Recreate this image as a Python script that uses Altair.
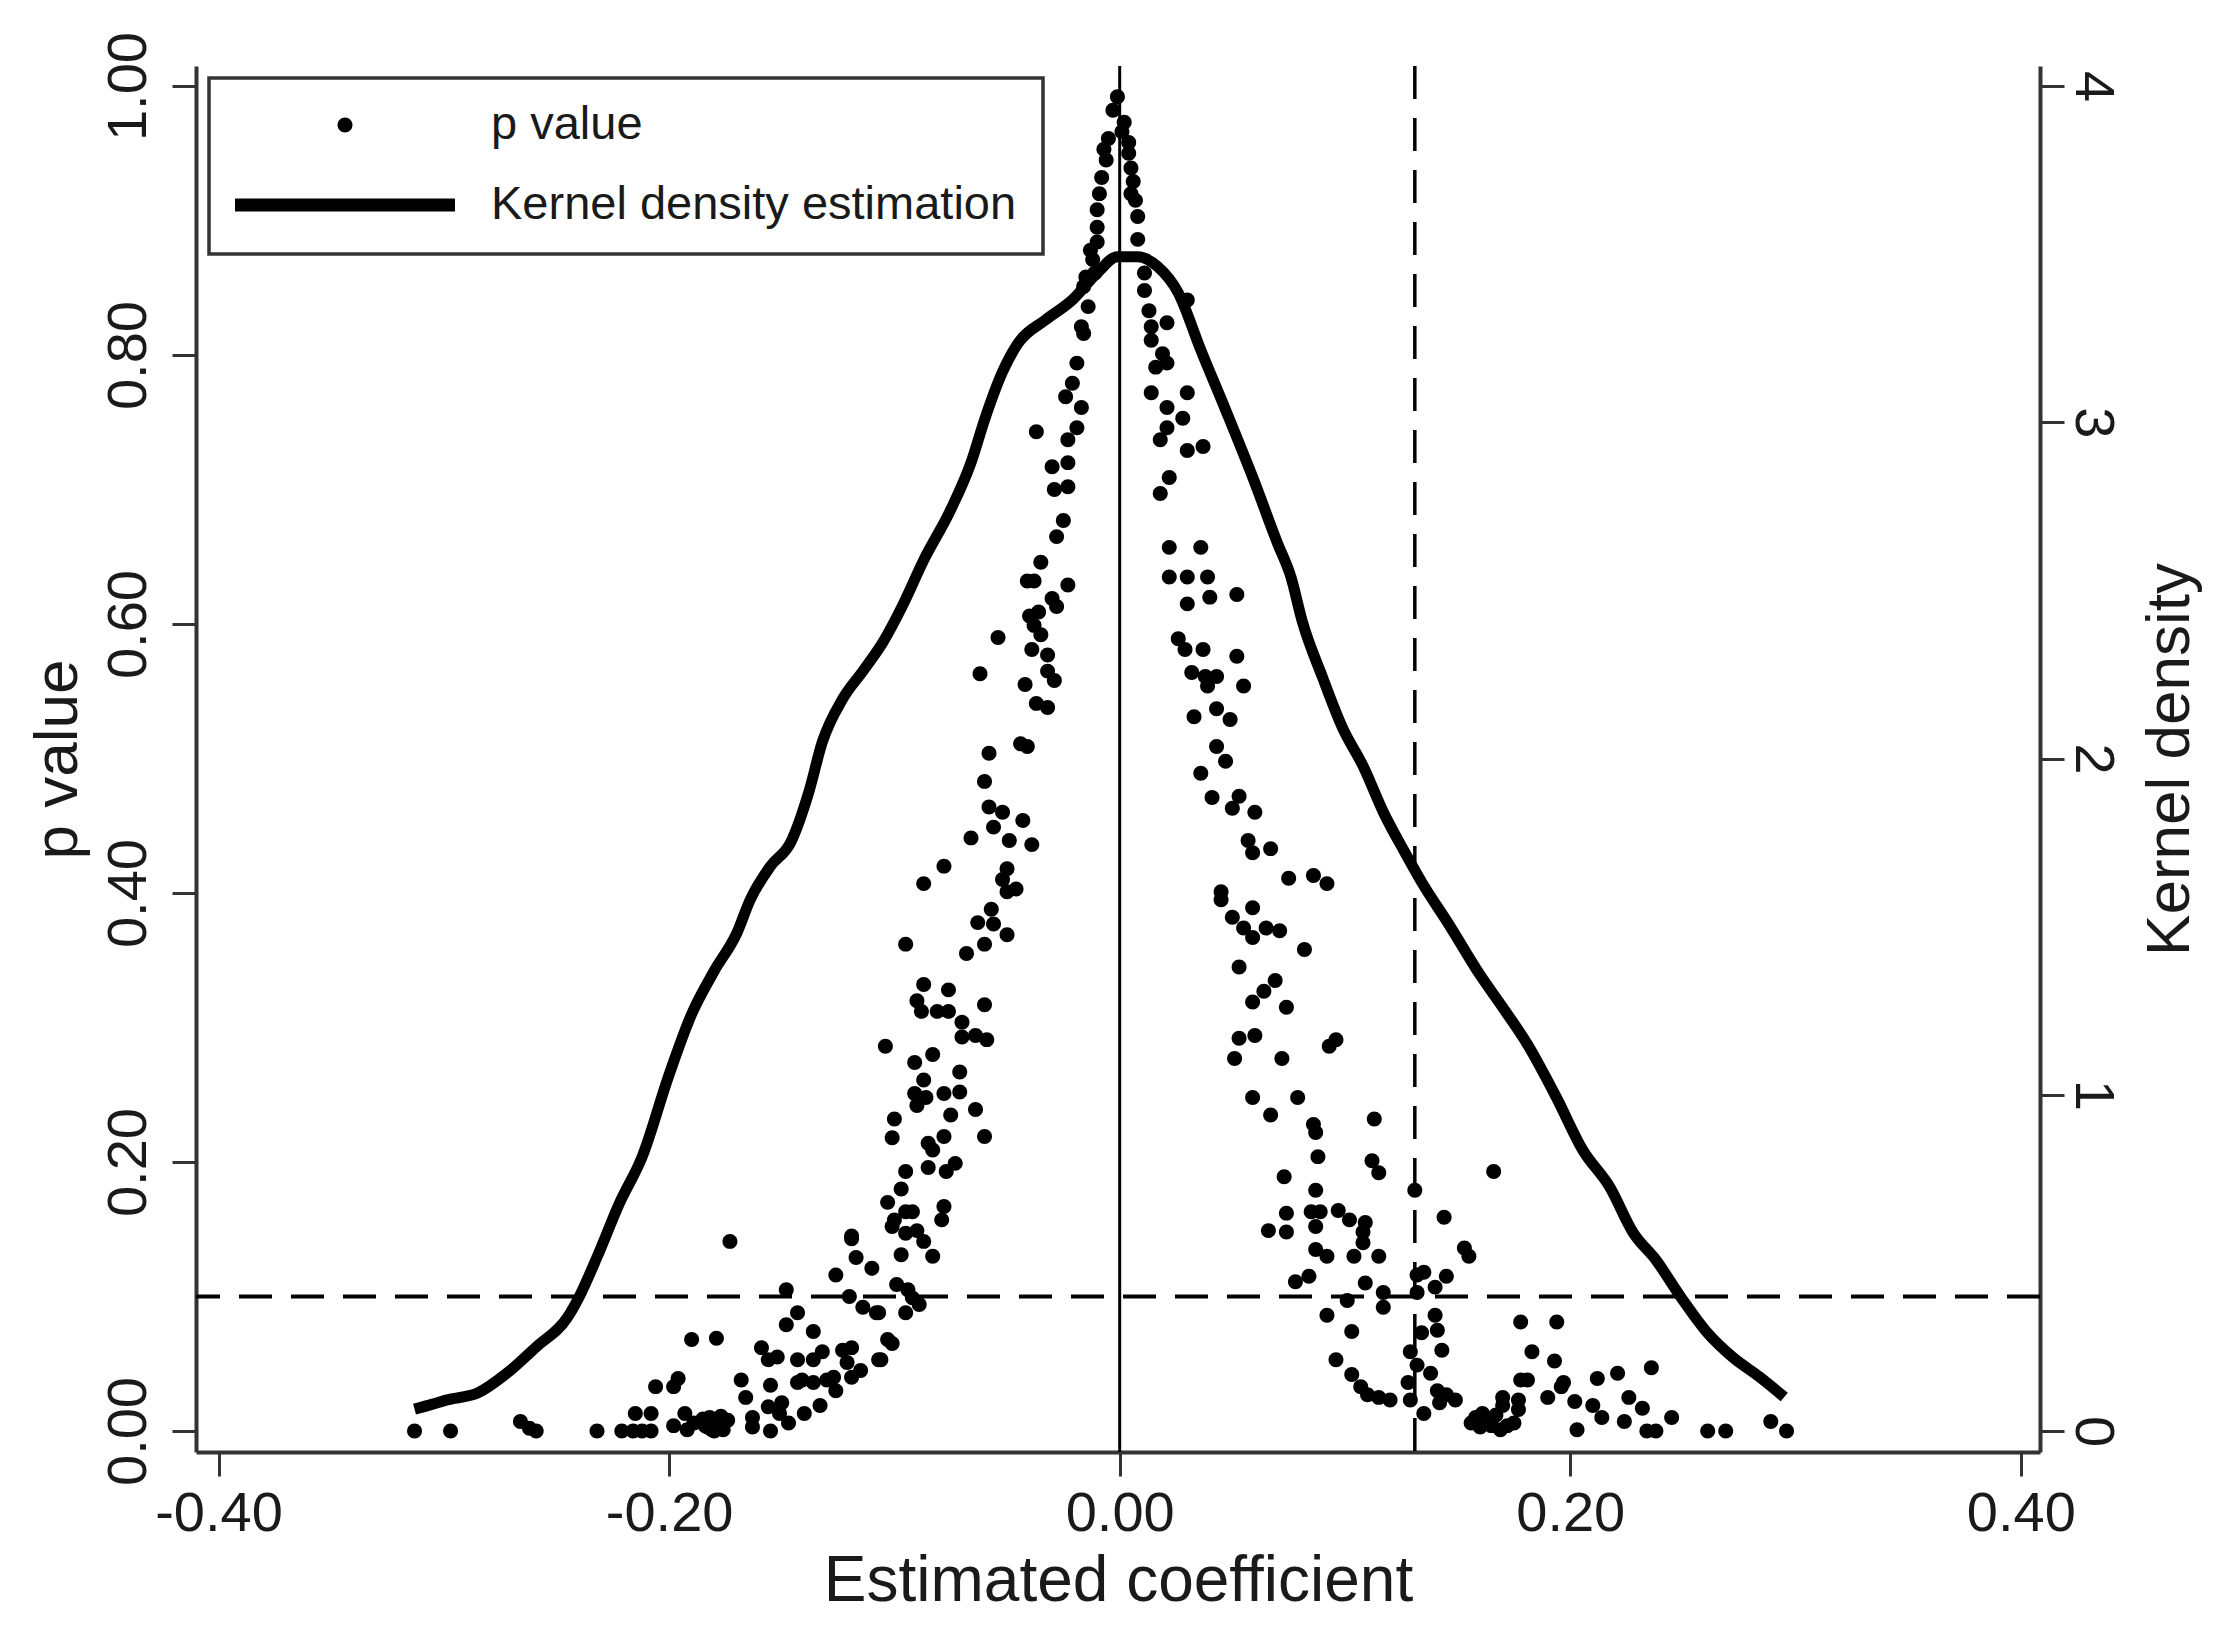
import altair as alt
import pandas as pd

# ---------------- data ----------------
coef = [
    # top of the funnel
    -0.001, -0.003, 0.002, 0.001, -0.005, 0.004, -0.007, 0.004, -0.006, 0.005,
    -0.008, 0.006, -0.009, 0.005, 0.007, -0.010, 0.008, -0.010, 0.008, -0.010,
    -0.013, -0.012, -0.011, -0.015, -0.016, -0.014, -0.017, -0.016, -0.019, -0.021,
    -0.024, -0.017, -0.019, -0.023, -0.037, -0.030, -0.023, -0.029, -0.023, -0.025,
    -0.028, 0.011, 0.011, 0.013, 0.014, 0.021, 0.014, 0.030, 0.019, 0.016,
    0.021, 0.014, 0.030, 0.021, 0.028, 0.021, 0.018, 0.030, 0.037, 0.022,
    0.018, 0.022, 0.036,
    # left branch, middle
    -0.035, -0.041, -0.038, -0.023, -0.030, -0.028, -0.040, -0.036, -0.038, -0.035,
    -0.054, -0.039, -0.032, -0.032, -0.029, -0.042, -0.062, -0.037, -0.032, -0.044,
    -0.041, -0.058, -0.060, -0.058, -0.052, -0.043, -0.056, -0.066, -0.049, -0.039,
    -0.078, -0.087, -0.050, -0.052, -0.046, -0.050, -0.057, -0.063, -0.056, -0.050,
    -0.060, -0.068, -0.095, -0.087, -0.076, -0.090, -0.088, -0.081, -0.076, -0.060,
    -0.070, -0.070, -0.064, -0.059, -0.104, -0.083, -0.091, -0.071, -0.087, -0.091,
    -0.086, -0.078, -0.071, -0.090, -0.064, -0.100, -0.075, -0.101, -0.078, -0.085,
    -0.060,
    # left branch, lower
    -0.083, -0.095, -0.085, -0.077, -0.073, -0.097, -0.103, -0.095, -0.092, -0.078,
    -0.100, -0.079, -0.101, -0.095, -0.090, -0.087, -0.097, -0.083, -0.099, -0.094,
    -0.092, -0.089, -0.095, -0.107, -0.103, -0.101, -0.106, -0.119,
    # left tail
    -0.313, -0.297, -0.266, -0.262, -0.259, -0.232, -0.221, -0.216, -0.212, -0.208,
    -0.215, -0.208, -0.206, -0.198, -0.196, -0.198, -0.193, -0.192, -0.189, -0.182,
    -0.179, -0.176, -0.181, -0.183, -0.174, -0.173, -0.190, -0.179, -0.168, -0.166,
    -0.163, -0.163, -0.159, -0.156, -0.152, -0.155, -0.156, -0.155, -0.151, -0.150,
    -0.147, -0.148, -0.143, -0.148, -0.143, -0.143, -0.141, -0.140, -0.136, -0.136,
    -0.132, -0.136, -0.133, -0.130, -0.127, -0.126, -0.126, -0.123, -0.121, -0.120,
    -0.119, -0.117, -0.119, -0.119, -0.115, -0.114, -0.110, -0.108, -0.107,
    -0.184, -0.180, -0.178, -0.177, -0.185, -0.180,
    # right branch, middle
    0.022, 0.030, 0.039, 0.030, 0.040, 0.052, 0.026, 0.029, 0.037, 0.052,
    0.032, 0.038, 0.043, 0.039, 0.055, 0.033, 0.043, 0.049, 0.043, 0.047,
    0.036, 0.041, 0.053, 0.050, 0.060, 0.057, 0.059, 0.067, 0.075, 0.086,
    0.092, 0.045, 0.045, 0.050, 0.059, 0.055, 0.059, 0.065, 0.071, 0.082,
    0.053, 0.069, 0.064, 0.059, 0.074, 0.053, 0.060, 0.051, 0.072, 0.093,
    0.096, 0.059, 0.079, 0.067, 0.086, 0.087, 0.113,
    # right branch, lower and right tail
    0.088, 0.112, 0.115, 0.073, 0.087, 0.166, 0.131, 0.074, 0.085, 0.089,
    0.097, 0.102, 0.109, 0.066, 0.074, 0.087, 0.108, 0.144, 0.108, 0.087,
    0.092, 0.104, 0.115, 0.153, 0.155, 0.078, 0.084, 0.109, 0.117, 0.101,
    0.117, 0.132, 0.135, 0.145, 0.132, 0.140, 0.092, 0.103, 0.096, 0.103,
    0.107, 0.110, 0.115, 0.120, 0.140, 0.141, 0.134, 0.129, 0.143, 0.132,
    0.138, 0.128, 0.141, 0.145, 0.149, 0.129, 0.142, 0.135, 0.178, 0.194,
    0.183, 0.193, 0.178, 0.181, 0.197, 0.196, 0.170, 0.177, 0.190, 0.202,
    0.212, 0.221, 0.236, 0.226, 0.210, 0.232, 0.170, 0.177, 0.156, 0.161,
    0.165, 0.169, 0.175, 0.160, 0.214, 0.203, 0.224, 0.234, 0.238, 0.245,
    0.261, 0.269, 0.289, 0.296, 0.158, 0.163, 0.167, 0.172,
]
pval = [
    0.992, 0.982, 0.973, 0.966, 0.961, 0.958, 0.953, 0.950, 0.945, 0.939,
    0.932, 0.929, 0.920, 0.920, 0.915, 0.908, 0.903, 0.895, 0.886, 0.884,
    0.878, 0.871, 0.861, 0.858, 0.851, 0.836, 0.821, 0.816, 0.794, 0.779,
    0.769, 0.761, 0.746, 0.737, 0.743, 0.717, 0.720, 0.700, 0.702, 0.677,
    0.665, 0.861, 0.848, 0.833, 0.821, 0.824, 0.811, 0.841, 0.801, 0.791,
    0.794, 0.772, 0.772, 0.761, 0.753, 0.746, 0.737, 0.729, 0.732, 0.709,
    0.697, 0.657, 0.657,
    0.646, 0.632, 0.632, 0.629, 0.619, 0.613, 0.606, 0.609, 0.599, 0.592,
    0.590, 0.581, 0.577, 0.565, 0.558, 0.555, 0.563, 0.541, 0.538, 0.511,
    0.509, 0.504, 0.483, 0.464, 0.460, 0.454, 0.449, 0.441, 0.439, 0.436,
    0.420, 0.407, 0.418, 0.410, 0.403, 0.401, 0.388, 0.378, 0.377, 0.369,
    0.362, 0.355, 0.362, 0.332, 0.328, 0.320, 0.312, 0.312, 0.312, 0.317,
    0.304, 0.293, 0.294, 0.291, 0.286, 0.280, 0.274, 0.267, 0.261, 0.251,
    0.248, 0.251, 0.252, 0.242, 0.239, 0.232, 0.235, 0.218, 0.219, 0.214,
    0.219,
    0.209, 0.193, 0.196, 0.193, 0.199, 0.180, 0.170, 0.163, 0.163, 0.167,
    0.157, 0.157, 0.152, 0.147, 0.149, 0.141, 0.131, 0.130, 0.109, 0.105,
    0.099, 0.094, 0.088, 0.088, 0.068, 0.065, 0.053, 0.145,
    0.000, 0.000, 0.007, 0.002, 0.000, 0.000, 0.000, 0.000, 0.000, 0.000,
    0.013, 0.013, 0.033, 0.033, 0.039, 0.004, 0.013, 0.001, 0.006, 0.010,
    0.006, 0.001, 0.001, 0.003, 0.008, 0.141, 0.068, 0.069, 0.038, 0.025,
    0.010, 0.003, 0.062, 0.053, 0.055, 0.034, 0.018, 0.000, 0.013, 0.021,
    0.006, 0.079, 0.088, 0.105, 0.053, 0.036, 0.038, 0.013, 0.074, 0.053,
    0.059, 0.036, 0.019, 0.038, 0.040, 0.116, 0.030, 0.060, 0.051, 0.100,
    0.143, 0.129, 0.062, 0.040, 0.045, 0.092, 0.121, 0.088, 0.053,
    0.004, 0.008, 0.003, 0.011, 0.009, 0.000,
    0.635, 0.635, 0.635, 0.615, 0.620, 0.622, 0.589, 0.581, 0.581, 0.576,
    0.564, 0.561, 0.561, 0.554, 0.554, 0.531, 0.537, 0.529, 0.509, 0.498,
    0.489, 0.471, 0.472, 0.463, 0.460, 0.439, 0.430, 0.433, 0.411, 0.413,
    0.407, 0.401, 0.395, 0.382, 0.389, 0.374, 0.367, 0.374, 0.372, 0.358,
    0.345, 0.335, 0.327, 0.319, 0.315, 0.292, 0.294, 0.277, 0.277, 0.286,
    0.291, 0.248, 0.248, 0.235, 0.228, 0.222, 0.232,
    0.204, 0.201, 0.192, 0.189, 0.179, 0.193, 0.179, 0.162, 0.163, 0.163,
    0.164, 0.157, 0.155, 0.149, 0.148, 0.152, 0.148, 0.159, 0.140, 0.135,
    0.130, 0.130, 0.130, 0.136, 0.130, 0.111, 0.115, 0.110, 0.103, 0.097,
    0.092, 0.116, 0.118, 0.115, 0.103, 0.107, 0.086, 0.074, 0.053, 0.042,
    0.033, 0.027, 0.025, 0.023, 0.086, 0.075, 0.073, 0.059, 0.060, 0.049,
    0.043, 0.036, 0.030, 0.027, 0.023, 0.023, 0.021, 0.013, 0.081, 0.081,
    0.059, 0.052, 0.038, 0.038, 0.036, 0.033, 0.025, 0.023, 0.025, 0.022,
    0.039, 0.043, 0.047, 0.025, 0.019, 0.017, 0.019, 0.016, 0.006, 0.013,
    0.004, 0.001, 0.006, 0.003, 0.010, 0.001, 0.007, 0.000, 0.000, 0.010,
    0.000, 0.000, 0.007, 0.000, 0.010, 0.008, 0.012, 0.004,
]

kd_coef = [
    -0.313, -0.305, -0.299, -0.285, -0.272, -0.259, -0.245, -0.240, -0.232, -0.222,
    -0.212, -0.200, -0.190, -0.180, -0.170, -0.164, -0.155, -0.146, -0.138, -0.132,
    -0.123, -0.114, -0.105, -0.096, -0.087, -0.075, -0.066, -0.060, -0.052, -0.045,
    -0.033, -0.021, -0.010, -0.001, 0.008, 0.017, 0.026, 0.036, 0.047, 0.059,
    0.070, 0.076, 0.081, 0.090, 0.099, 0.108, 0.117, 0.127, 0.134, 0.146,
    0.160, 0.170, 0.181, 0.194, 0.2055, 0.2175, 0.228, 0.238, 0.249, 0.261,
    0.272, 0.284, 0.295,
]
kd_density = [
    0.065, 0.080, 0.092, 0.113, 0.172, 0.250, 0.339, 0.398, 0.517, 0.678,
    0.815, 1.060, 1.240, 1.368, 1.480, 1.580, 1.680, 1.751, 1.900, 2.049,
    2.177, 2.260, 2.347, 2.460, 2.590, 2.740, 2.880, 3.007, 3.150, 3.236,
    3.304, 3.364, 3.444, 3.492, 3.492, 3.462, 3.385, 3.215, 3.037, 2.837,
    2.641, 2.540, 2.409, 2.242, 2.090, 1.978, 1.841, 1.716, 1.633, 1.508,
    1.356, 1.260, 1.150, 0.990, 0.836, 0.726, 0.589, 0.509, 0.399, 0.291,
    0.220, 0.161, 0.101,
]

p_threshold = [0.10]
zero_line = [0.0]
dashed_coef = [0.131]

x_ticks = [-0.40, -0.20, 0.00, 0.20, 0.40]
p_ticks = [0.00, 0.20, 0.40, 0.60, 0.80, 1.00]
d_ticks = [0, 1, 2, 3, 4]
series = ["p value", "Kernel density estimation"]

# ---------------- styling ----------------
FONT = "Liberation Sans"
INK = "#1a1a1a"
AX = "#333333"
W, H = 1844, 1386
NBSP = "\u00a0"

# custom symbols (unit square -1..1 scaled by sqrt(size))
CIRCLE = "M0,-0.068A0.068,0.068 0 1,1 0,0.068A0.068,0.068 0 1,1 0,-0.068Z"
BAR = "M-1,-0.06L1,-0.06L1,0.06L-1,0.06Z"

xscale = alt.Scale(domain=[-0.41, 0.4085], nice=False, zero=False)
pscale = alt.Scale(domain=[-0.0156, 1.0149], nice=False, zero=False)
dscale = alt.Scale(domain=[-0.0624, 4.0596], nice=False, zero=False)

common = dict(grid=False, tickSize=24, tickWidth=3, tickColor=AX,
              domainColor=AX, domainWidth=4, labelFont=FONT, labelFontSize=56,
              labelColor=INK, labelOverlap=False, labelFlush=False,
              titleFont=FONT, titleFontWeight="normal", titleColor=INK)

x_axis = alt.Axis(
    values=x_ticks, title="Estimated coefficient",
    labelExpr="datum.value < 0 ? '-' + format(-datum.value, '.2f') : format(datum.value, '.2f')",
    labelPadding=54, labelBaseline="alphabetic", labelAlign="center",
    titleFontSize=64, titleY=148, titleBaseline="alphabetic", **common)

p_axis = alt.Axis(
    orient="left", values=p_ticks, format=".2f", title="p value",
    labelAngle=270, labelAlign="center", labelBaseline="alphabetic", labelPadding=27,
    titleFontSize=62, titleAngle=270, titleX=-120, titleY=693,
    titleAlign="center", titleBaseline="alphabetic", **common)

d_axis = alt.Axis(
    orient="right", values=d_ticks, format="d", title="Kernel density",
    labelAngle=90, labelAlign="center", labelBaseline="alphabetic", labelPadding=11,
    titleFontSize=62, titleAngle=270, titleX=148, titleY=693,
    titleAlign="center", titleBaseline="alphabetic", **common)

legend = alt.Legend(
    title=None, orient="none", legendX=13, legendY=12, padding=26,
    strokeColor=AX, fillColor="white", cornerRadius=0,
    symbolSize=48400, clipHeight=42, rowPadding=33, labelOffset=36,
    labelFont=FONT, labelFontSize=47, labelColor=INK, labelLimit=3000,
    symbolStrokeWidth=0, symbolFillColor="black",
    labelExpr="datum.label == 'p value' ? datum.label : datum.label + '" + NBSP * 5 + "'")

pts_df = pd.DataFrame({"coef": coef, "pval": pval})
pts_df["series"] = series[0]
kd_df = pd.DataFrame({"coef": kd_coef, "density": kd_density})

zero_rule = alt.Chart(pd.DataFrame({"coef": zero_line})).mark_rule(
    color="black", strokeWidth=3).encode(x=alt.X("coef:Q", scale=xscale, axis=x_axis))

vdash = alt.Chart(pd.DataFrame({"coef": dashed_coef})).mark_rule(
    color="black", strokeWidth=3.5, strokeDash=[33, 19]).encode(
    x=alt.X("coef:Q", scale=xscale, axis=x_axis))

hdash = alt.Chart(pd.DataFrame({"pval": p_threshold})).mark_rule(
    color="black", strokeWidth=4, strokeDash=[33, 19]).encode(
    y=alt.Y("pval:Q", scale=pscale, axis=p_axis))

points = alt.Chart(pts_df).mark_point(
    filled=True, opacity=1, color="black", strokeWidth=0, size=48400).encode(
    x=alt.X("coef:Q", scale=xscale, axis=x_axis),
    y=alt.Y("pval:Q", scale=pscale, axis=p_axis),
    shape=alt.Shape("series:N", scale=alt.Scale(domain=series, range=[CIRCLE, BAR]),
                    legend=legend))

left = alt.layer(zero_rule, vdash, hdash, points)

density = alt.Chart(kd_df).mark_line(
    color="black", strokeWidth=11, strokeJoin="round", strokeCap="butt",
    interpolate="monotone").encode(
    x=alt.X("coef:Q", scale=xscale, axis=x_axis),
    y=alt.Y("density:Q", scale=dscale, axis=d_axis))

chart = alt.layer(left, density).resolve_scale(y="independent").properties(
    width=W, height=H,
    autosize=alt.AutoSizeParams(type="none"),
    padding={"left": 188, "top": 58, "right": 180, "bottom": 171},
    background="white",
).configure_view(strokeWidth=0).configure_legend(strokeWidth=3.5)

chart.save("out.html", embed_options={"renderer": "svg", "actions": False})
